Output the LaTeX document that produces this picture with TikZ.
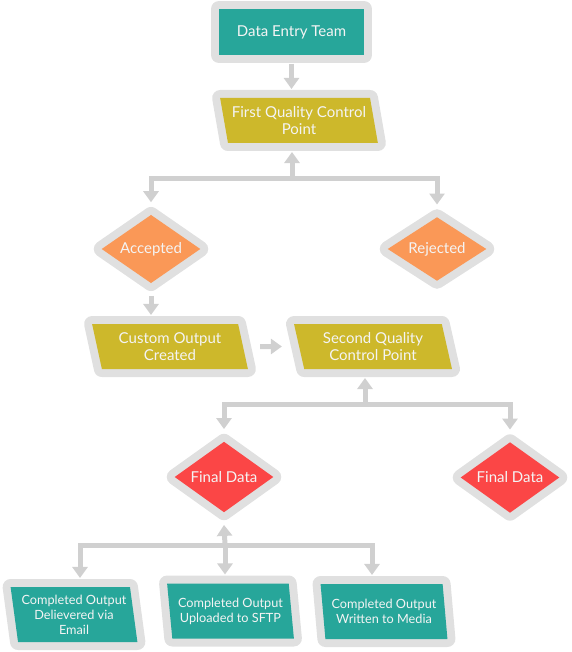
\documentclass[tikz,border=0pt]{standalone}
\usepackage{fontspec}
\setmainfont{Lato}
\usetikzlibrary{shapes.geometric,arrows.meta}

\definecolor{tealbox}{HTML}{27A69A}
\definecolor{mustard}{HTML}{CDB82B}
\definecolor{peach}{HTML}{FA9857}
\definecolor{coral}{HTML}{FB4646}
\definecolor{halo}{HTML}{E0E0E0}
\definecolor{wire}{HTML}{D0D0D0}
\definecolor{label}{HTML}{F4F4F4}

\tikzset{
    box/.style={preaction={draw=halo, line width=16pt, line join=round},
        fill=#1, text=label, align=center, outer sep=9pt, inner sep=0pt,
        font=\fontsize{15}{16.5}\selectfont},
    rectbox/.style={box=#1, rectangle},
    slantbox/.style={box=#1, trapezium, trapezium left angle=105,
        trapezium right angle=75, trapezium stretches=true},
    choice/.style={box=#1, diamond, minimum width=106pt, minimum height=69pt},
    conn/.style={draw=wire, line width=5pt, -{Triangle[width=15pt,length=11pt]}}
}

\begin{document}
\begin{tikzpicture}[x=1pt, y=-1pt]
    \useasboundingbox (0,0) rectangle (571,652);

    \node[rectbox=tealbox, minimum width=145pt, minimum height=46pt] (det) at (291.5,32) {Data Entry Team};
    \node[slantbox=mustard, minimum width=158pt, minimum height=45pt] (fqc) at (299,120.5) {First Quality Control\\Point};
    \node[choice=peach] (acc) at (151,249) {Accepted};
    \node[choice=peach] (rej) at (437,249) {Rejected};
    \node[slantbox=mustard, minimum width=156pt, minimum height=45pt] (coc) at (170,346.5) {Custom Output\\Created};
    \node[slantbox=mustard, minimum width=158pt, minimum height=45pt] (sqc) at (373,346.5) {Second Quality\\Control Point};
    \node[choice=coral] (fdl) at (224,477) {Final Data};
    \node[choice=coral] (fdr) at (510,477.5) {Final Data};

    \foreach \name/\pos/\txt in {out1/{74,614.5}/{Completed Output\\Delievered via\\Email},
        out2/{230.5,611}/{Completed Output\\Uploaded to SFTP},
        out3/{384,611.5}/{Completed Output\\Written to Media}} {
        \node[slantbox=tealbox, trapezium left angle=100, trapezium right angle=80,
            minimum width=127pt, minimum height=55pt,
            font=\fontsize{12.7}{15}\selectfont] (\name) at (\pos) {\txt};
    }

    \coordinate (b1) at (292,179);
    \coordinate (b2) at (365,404);
    \coordinate (b3) at (225,545);

    \draw[conn] (det) -- (det |- fqc.north);

    \draw[conn] (b1) -- (b1 |- fqc.south);
    \draw[conn] (b1) -| (acc.north);
    \draw[conn] (b1) -| (rej.north);

    \draw[conn] (acc) -- (acc |- coc.north);
    \draw[conn, shorten <=8pt, shorten >=8pt] (coc) -- (sqc);

    \draw[conn] (b2) -- (b2 |- sqc.south);
    \draw[conn] (b2) -| (fdl.north);
    \draw[conn] (b2) -| (fdr.north);

    \draw[conn] (b3) -- (fdl.south);
    \draw[conn] (b3) -| ([xshift=6pt]out1.north);
    \draw[conn] (b3) -- (b3 |- out2.north);
    \draw[conn] (b3) -| ([xshift=-12pt]out3.north);
\end{tikzpicture}
\end{document}
